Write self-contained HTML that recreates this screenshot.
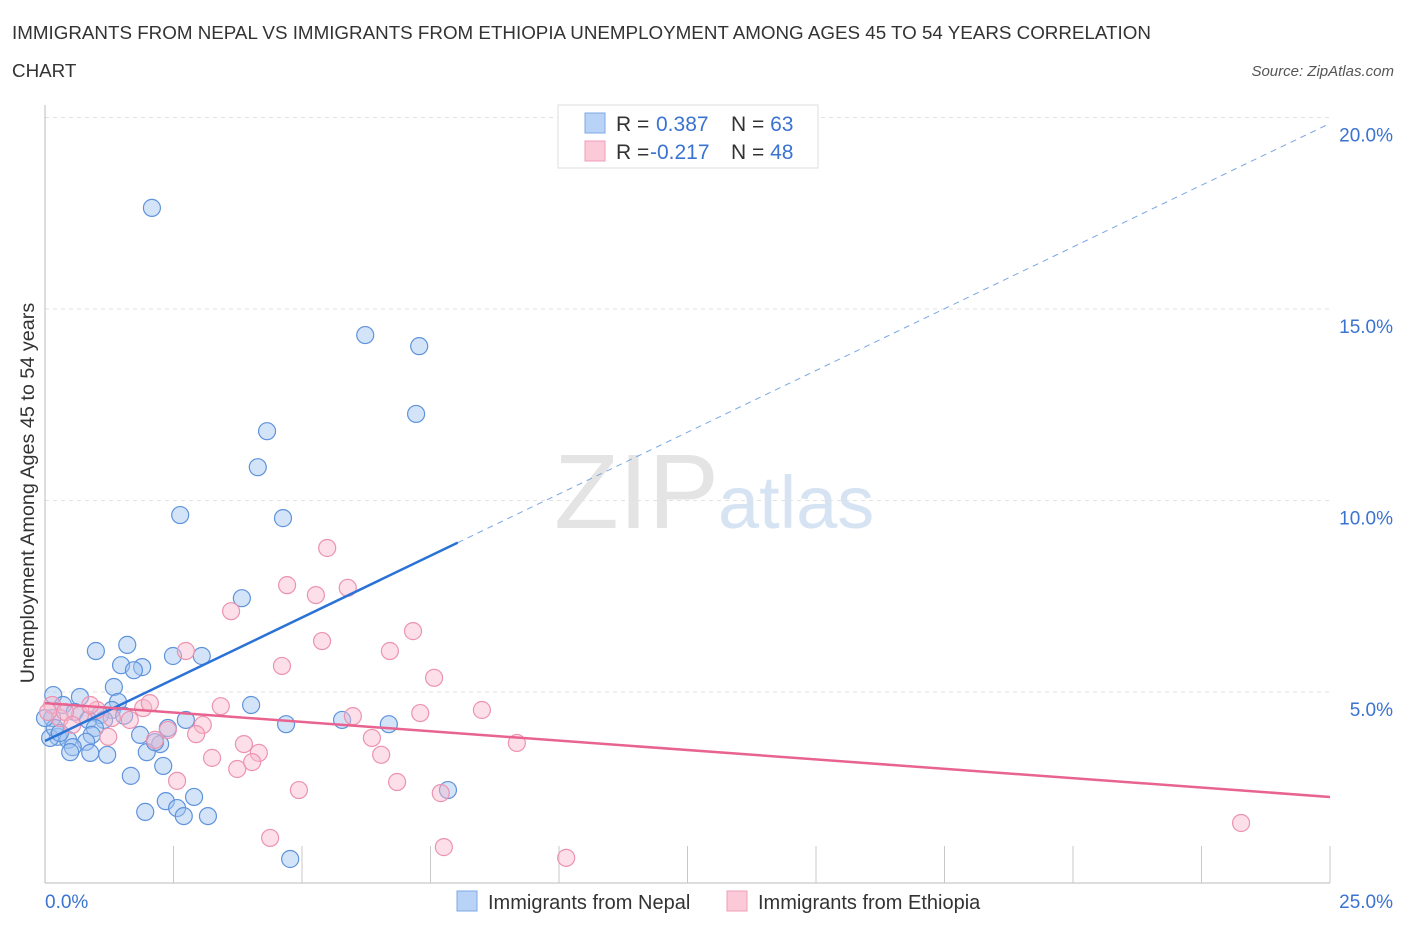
<!DOCTYPE html>
<html><head><meta charset="utf-8"><style>
body{margin:0;background:#fff;font-family:"Liberation Sans",sans-serif;}
svg text{font-family:"Liberation Sans",sans-serif;}
</style></head><body>
<svg id="chart" width="1406" height="930" xmlns="http://www.w3.org/2000/svg">
<text x="12" y="39" font-size="18.8" fill="#333">IMMIGRANTS FROM NEPAL VS IMMIGRANTS FROM ETHIOPIA UNEMPLOYMENT AMONG AGES 45 TO 54 YEARS CORRELATION</text>
<text x="12" y="77" font-size="18.8" fill="#333">CHART</text>
<text x="1394" y="76" font-size="15" fill="#555" text-anchor="end" font-style="italic">Source: ZipAtlas.com</text>
<text x="554" y="528" font-size="106" fill="#e4e4e4" font-family="Liberation Serif">ZIP</text>
<text x="718" y="528" font-size="74" fill="#d6e3f3">atlas</text>
<g id="grid"></g>
<g id="axes"></g>
<g id="marks"></g>
<text transform="translate(34,493) rotate(-90)" font-size="19.8" fill="#333" text-anchor="middle">Unemployment Among Ages 45 to 54 years</text>
<g>
<rect x="558" y="105" width="260" height="63" fill="#fff" stroke="#ddd"/>
<rect x="585" y="113" width="20" height="20" fill="#b8d3f5" stroke="#7eaae6"/>
<rect x="585" y="141" width="20" height="20" fill="#fbc9d8" stroke="#ef9db7"/>
<text x="616" y="131" font-size="21" fill="#333">R = <tspan fill="#3a73d0" x="656">0.387</tspan><tspan fill="#333" x="731">N = </tspan><tspan fill="#3a73d0">63</tspan></text>
<text x="616" y="159" font-size="21" fill="#333">R = <tspan fill="#3a73d0" x="650">-0.217</tspan><tspan fill="#333" x="731">N = </tspan><tspan fill="#3a73d0">48</tspan></text>
</g>
<g>
<rect x="457" y="891" width="20" height="20" fill="#b8d3f5" stroke="#7eaae6"/>
<text x="488" y="909" font-size="20" fill="#333">Immigrants from Nepal</text>
<rect x="727" y="891" width="20" height="20" fill="#fbc9d8" stroke="#ef9db7"/>
<text x="758" y="909" font-size="20" fill="#333">Immigrants from Ethiopia</text>
</g>
</svg>
<script>
const yTicks=[5,10,15,20];
const yTickLabels=["5.0%","10.0%","15.0%","20.0%"];
const xTickLabels=["0.0%","25.0%"];
const nepalX=[2.08,6.23,7.28,7.22,4.32,4.14,2.63,4.63,3.83,1.60,0.99,2.49,3.05,1.48,1.89,1.73,1.34,4.01,0.16,0.68,1.42,0.35,0.58,1.30,1.07,0.84,1.54,1.15,2.74,0.14,4.69,5.78,6.69,0.97,0.91,1.85,2.39,0.25,0.10,0.45,0.80,2.24,0.54,0.49,0.88,1.21,1.98,2.30,1.67,7.84,2.90,2.35,2.57,1.95,2.70,3.17,4.77,0.19,0.29,0.0,2.14];
const nepalY=[17.64,14.32,14.03,12.26,11.81,10.87,9.62,9.54,7.45,6.23,6.07,5.94,5.94,5.70,5.65,5.57,5.13,4.66,4.92,4.87,4.74,4.66,4.48,4.53,4.40,4.27,4.38,4.27,4.27,4.32,4.16,4.27,4.16,4.06,3.88,3.88,4.06,3.83,3.80,3.75,3.70,3.64,3.56,3.43,3.41,3.36,3.43,3.07,2.81,2.44,2.26,2.15,1.97,1.87,1.76,1.76,0.64,4.06,3.93,4.32,3.69];
const ethX=[5.49,4.71,5.27,5.89,3.62,7.16,5.39,6.71,2.74,4.61,7.57,3.42,1.91,7.30,8.50,5.99,3.07,1.01,1.65,2.39,2.94,3.87,6.36,4.16,3.25,6.54,3.74,4.03,9.18,2.57,6.85,4.94,7.70,4.38,7.76,10.14,23.27,1.23,0.68,0.29,0.14,0.39,0.88,2.04,1.30,0.53,0.06,2.14];
const ethY=[8.76,7.79,7.53,7.72,7.11,6.59,6.33,6.07,6.07,5.68,5.37,4.63,4.58,4.45,4.53,4.37,4.14,4.53,4.27,4.01,3.90,3.64,3.80,3.41,3.28,3.36,2.99,3.17,3.67,2.68,2.65,2.44,2.36,1.19,0.95,0.67,1.58,3.83,4.40,4.32,4.66,4.48,4.66,4.71,4.32,4.14,4.48,3.75];
const nepalTrend=[3.72,0.645];
const ethTrend=[4.71,-0.098];
const nepalSolidEnd=8.03;

const NS="http://www.w3.org/2000/svg";
const sx=v=>45+v*51.4, sy=v=>883.5-v*38.3;
function mk(tag,attrs,parent){const e=document.createElementNS(NS,tag);for(const k in attrs)e.setAttribute(k,attrs[k]);parent.appendChild(e);return e;}
const grid=document.getElementById('grid'),axes=document.getElementById('axes'),marks=document.getElementById('marks');
yTicks.forEach((t,i)=>{
  const g=mk('line',{x1:45,x2:1330,y1:sy(t),y2:sy(t),stroke:'#e2e2e2','stroke-dasharray':'4,4'},grid);
  
  
  const tx=mk('text',{x:1393,y:sy(t)+24,'font-size':19,fill:'#3a73d0','text-anchor':'end'},axes);
  tx.textContent=yTickLabels[i];
  
  
});
const ya=mk('line',{x1:45,x2:45,y1:105,y2:883,stroke:'#bbb'},axes);


const xa=mk('line',{x1:45,x2:1330,y1:883,y2:883,stroke:'#bbb'},axes);


for(let i=1;i<=10;i++){
  const t=mk('line',{x1:sx(i*2.5),x2:sx(i*2.5),y1:846,y2:883,stroke:'#c8c8c8'},axes);
  
  
}
const xl0=mk('text',{x:45,y:908,'font-size':19,fill:'#3a73d0'},axes);
xl0.textContent=xTickLabels[0];


const xl1=mk('text',{x:1393,y:908,'font-size':19,fill:'#3a73d0','text-anchor':'end'},axes);
xl1.textContent=xTickLabels[1];



nepalX.forEach((x,i)=>{
  const c=mk('circle',{cx:sx(x),cy:sy(nepalY[i]),r:8.5,fill:'rgba(160,196,240,0.45)',stroke:'#5f93dc','stroke-width':1.2},marks);
  
  
});
ethX.forEach((x,i)=>{
  const c=mk('circle',{cx:sx(x),cy:sy(ethY[i]),r:8.5,fill:'rgba(248,184,204,0.45)',stroke:'#ec93b0','stroke-width':1.2},marks);
  
  
});
const nf=x=>nepalTrend[0]+nepalTrend[1]*x, ef=x=>ethTrend[0]+ethTrend[1]*x;
const l1=mk('line',{x1:sx(0),y1:sy(nf(0)),x2:sx(nepalSolidEnd),y2:sy(nf(nepalSolidEnd)),stroke:'#2a72d6','stroke-width':2.5},marks);


const l2=mk('line',{x1:sx(nepalSolidEnd),y1:sy(nf(nepalSolidEnd)),x2:sx(25),y2:sy(nf(25)),stroke:'#7aa6e4','stroke-width':1,'stroke-dasharray':'6,5'},marks);


const l3=mk('line',{x1:sx(0),y1:sy(ef(0)),x2:sx(25),y2:sy(ef(25)),stroke:'#e8638f','stroke-width':2.5},marks);


</script>
</body></html>
